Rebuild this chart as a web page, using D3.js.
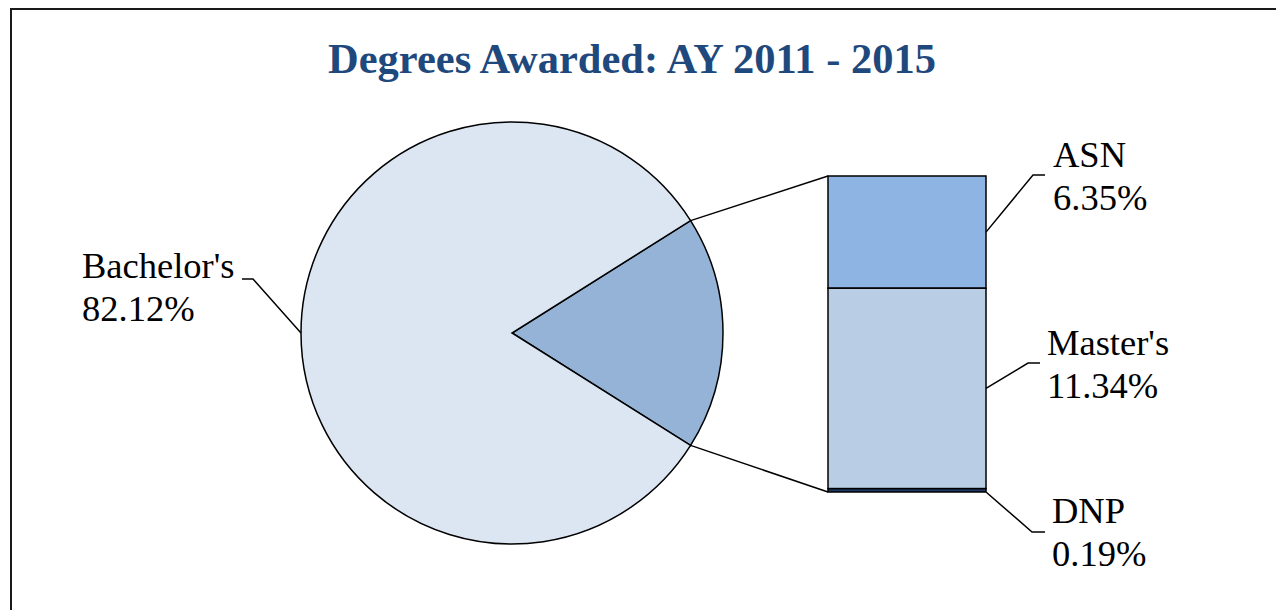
<!DOCTYPE html>
<html>
<head>
<meta charset="utf-8">
<script src="https://cdn.jsdelivr.net/npm/d3@7"></script>
<style>
  body { margin: 0; background: #fff; }
  svg { display: block; }
  text { font-family: "Liberation Serif", "Times New Roman", serif; fill: #000; }
  .title { font-weight: bold; fill: #1F497D; font-size: 42.5px; }
  .label { font-size: 36.5px; }
  .leader, .connector { fill: none; stroke: #000; stroke-width: 1.5; }
</style>
</head>
<body>
<svg width="1276" height="610"></svg>
<script>
const TITLE = "Degrees Awarded: AY 2011 - 2015";

// main pie: first slice is the one broken out into the bar
const pieCategories = ["Other", "Bachelor's"];
const pieValues = [17.88, 82.12];
const pieColors = ["#95B3D7", "#DCE6F2"];

// stacked bar, top to bottom
const barCategories = ["ASN", "Master's", "DNP"];
const barValues = [6.35, 11.34, 0.19];
const barColors = ["#8EB4E3", "#B9CDE5", "#1F3864"];

const WIDTH = 1276, HEIGHT = 610;
const CX = 512, CY = 333, R = 211;
const BAR_X = 828, BAR_W = 158, BAR_TOP = 176, BAR_BOTTOM = 492;
const TAU = 2 * Math.PI;

const svg = d3.select("svg");

// frame
svg.append("rect")
  .attr("x", 11).attr("y", 9)
  .attr("width", WIDTH + 20).attr("height", HEIGHT + 20)
  .attr("fill", "none").attr("stroke", "#1a1a1a").attr("stroke-width", 2);

svg.append("text")
  .attr("class", "title")
  .attr("x", 632).attr("y", 73)
  .attr("text-anchor", "middle")
  .text(TITLE);

// keep the broken-out slice centred on the right-hand side
const otherAngle = TAU * pieValues[0] / d3.sum(pieValues);
const pie = d3.pie()
  .sort(null)
  .startAngle(Math.PI / 2 - otherAngle / 2)
  .endAngle(Math.PI / 2 - otherAngle / 2 + TAU)
  .value(d => d)(pieValues);

const arc = d3.arc().innerRadius(0).outerRadius(R);

const pieG = svg.append("g").attr("transform", `translate(${CX},${CY})`);
pieG.selectAll("path")
  .data(pie)
  .enter()
  .append("path")
  .attr("d", arc)
  .attr("fill", (d, i) => pieColors[i])
  .attr("stroke", "#000")
  .attr("stroke-width", 1.5);

const polar = a => [CX + R * Math.sin(a), CY - R * Math.cos(a)];

// stacked bar
const y = d3.scaleLinear()
  .domain([0, d3.sum(barValues)])
  .range([BAR_TOP, BAR_BOTTOM]);

let acc = 0;
const segs = barValues.map((v, i) => {
  const s = { name: barCategories[i], value: v, y0: acc, y1: acc + v, color: barColors[i] };
  acc += v;
  return s;
});

// connector lines from slice edges to bar corners
const pStart = polar(pie[0].startAngle);
const pEnd = polar(pie[0].endAngle);
svg.append("path").attr("class", "connector")
  .attr("d", `M${pStart[0]},${pStart[1]} L${BAR_X},${y(0)}`);
svg.append("path").attr("class", "connector")
  .attr("d", `M${pEnd[0]},${pEnd[1]} L${BAR_X},${y(d3.sum(barValues))}`);

svg.selectAll(".seg")
  .data(segs)
  .enter()
  .append("rect")
  .attr("class", "seg")
  .attr("x", BAR_X)
  .attr("y", d => y(d.y0))
  .attr("width", BAR_W)
  .attr("height", d => y(d.y1) - y(d.y0))
  .attr("fill", d => d.color)
  .attr("stroke", "#000")
  .attr("stroke-width", 1.5);

const fmt = v => v.toFixed(2) + "%";

const addLabel = (x, baseline, name, value) => {
  const t = svg.append("text").attr("class", "label");
  t.append("tspan").attr("x", x).attr("y", baseline).text(name);
  t.append("tspan").attr("x", x).attr("y", baseline + 43).text(fmt(value));
};

// Bachelor's label
const bachMid = polar((pie[1].startAngle + pie[1].endAngle) / 2);
svg.append("path").attr("class", "leader")
  .attr("d", `M${bachMid[0]},${bachMid[1]} L253,279 L242,279`);
addLabel(82, 278, pieCategories[1], pieValues[1]);

// bar labels
const barLabels = [
  { knee: [1033, 175], end: 1045, tx: 1053, ty: 167, anchorAt: d => (y(d.y0) + y(d.y1)) / 2 },
  { knee: [1028, 363], end: 1040, tx: 1047, ty: 355, anchorAt: d => (y(d.y0) + y(d.y1)) / 2 },
  { knee: [1032, 532], end: 1045, tx: 1052, ty: 523, anchorAt: d => y(d.y1) }
];
segs.forEach((d, i) => {
  const L = barLabels[i];
  const ay = L.anchorAt(d);
  svg.append("path").attr("class", "leader")
    .attr("d", `M${BAR_X + BAR_W},${ay} L${L.knee[0]},${L.knee[1]} L${L.end},${L.knee[1]}`);
  addLabel(L.tx, L.ty, d.name, d.value);
});
</script>
</body>
</html>
